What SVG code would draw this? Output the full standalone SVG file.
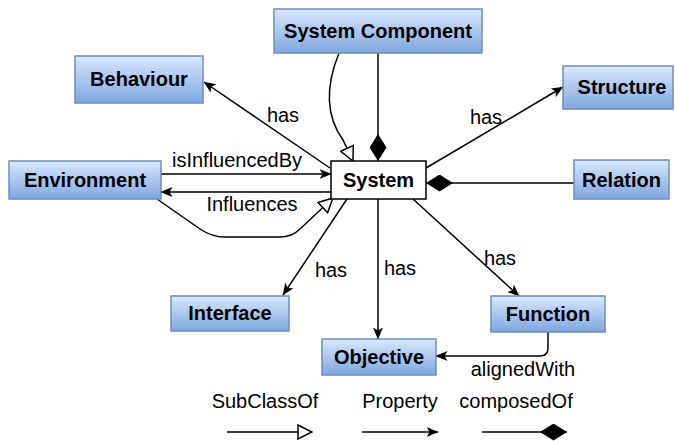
<svg xmlns="http://www.w3.org/2000/svg" width="675" height="441" viewBox="0 0 675 441">
<style>
.node rect.c{fill:url(#blue);stroke:#6c8ebf;stroke-width:1.5}
.node text,.sys text{font-family:"Liberation Sans",Arial,sans-serif;font-weight:bold;font-size:20px;fill:#000;text-anchor:middle}
.lbl{font-family:"Liberation Sans",Arial,sans-serif;font-size:20px;fill:#000;text-anchor:middle}
.e{fill:none;stroke:#000;stroke-width:1.5}
.arr{marker-end:url(#arrow)}
.sub{marker-end:url(#tri)}
.dia{marker-end:url(#diamond)}
</style>
<defs>
<linearGradient id="blue" x1="0" y1="0" x2="0" y2="1">
<stop offset="0" stop-color="#dae8fc"/>
<stop offset="1" stop-color="#7ea6e0"/>
</linearGradient>
<marker id="arrow" viewBox="0 0 12 10" refX="11.5" refY="5" markerWidth="12" markerHeight="10" markerUnits="userSpaceOnUse" orient="auto">
<path d="M0,0 L12,5 L0,10 L3,5 z" fill="#000"/>
</marker>
<marker id="tri" viewBox="-1 -1 16 16" refX="14" refY="7" markerWidth="16" markerHeight="16" markerUnits="userSpaceOnUse" orient="auto">
<path d="M0,0 L14,7 L0,14 z" fill="#fff" stroke="#000" stroke-width="1.5"/>
</marker>
<marker id="diamond" viewBox="0 0 27 17" refX="27" refY="8.5" markerWidth="27" markerHeight="17" markerUnits="userSpaceOnUse" orient="auto">
<path d="M0,8.5 L13.5,0 L27,8.5 L13.5,17 z" fill="#000"/>
</marker>
</defs>
<g id="connectors">
<path class="e dia" d="M378,53 L378,161"/>
<path class="e sub" d="M339,53 C326,85 325,115 343,140 L353,161"/>
<path class="e arr" d="M330,168 L204,82"/>
<path class="e arr" d="M161,174 L331,174"/>
<path class="e arr" d="M331,192 L161,192"/>
<path class="e sub" d="M157,199 L200,229 Q212,237 225,237 L280,237 Q292,237 300,229 L333,198"/>
<path class="e arr" d="M426,168 L563,87"/>
<path class="e dia" d="M574,183 L426,183"/>
<path class="e arr" d="M347,199 L283,295"/>
<path class="e arr" d="M378,199 L378,339"/>
<path class="e arr" d="M413,199 L519,296"/>
<path class="e arr" d="M548,332 L548,348 Q548,356 540,356 L436,356"/>
<text class="lbl" x="283" y="122">has</text>
<text class="lbl" x="237" y="167">isInfluencedBy</text>
<text class="lbl" x="252" y="211">Influences</text>
<text class="lbl" x="486" y="124">has</text>
<text class="lbl" x="331" y="277">has</text>
<text class="lbl" x="400" y="275">has</text>
<text class="lbl" x="500" y="265">has</text>
<text class="lbl" x="523" y="376">alignedWith</text>
</g>
<g id="legend">
<text class="lbl" x="265" y="408">SubClassOf</text>
<path class="e sub" d="M227,432 L312,432"/>
<text class="lbl" x="400" y="408">Property</text>
<path class="e arr" d="M362,432 L438,432"/>
<text class="lbl" x="516" y="408">composedOf</text>
<path class="e dia" d="M482,432 L567,432"/>
</g>
<g id="system-component" class="node"><rect class="c" x="274" y="9" width="208" height="44"/><text x="378" y="38">System Component</text></g>
<g id="system" class="sys"><rect x="331" y="161" width="95" height="38" fill="#fff" stroke="#000" stroke-width="1.5"/><text x="378.5" y="187">System</text></g>
<g id="behaviour" class="node"><rect class="c" x="75" y="56" width="128" height="47"/><text x="139" y="86">Behaviour</text></g>
<g id="environment" class="node"><rect class="c" x="9" y="161" width="152" height="38"/><text x="85" y="187">Environment</text></g>
<g id="structure" class="node"><rect class="c" x="563" y="66" width="110" height="43"/><text x="622" y="94">Structure</text></g>
<g id="relation" class="node"><rect class="c" x="574" y="160" width="95" height="39"/><text x="621.5" y="187">Relation</text></g>
<g id="interface" class="node"><rect class="c" x="171" y="296" width="118" height="35"/><text x="230" y="320">Interface</text></g>
<g id="objective" class="node"><rect class="c" x="322" y="339" width="114" height="36"/><text x="379" y="364">Objective</text></g>
<g id="function" class="node"><rect class="c" x="491" y="296" width="114" height="36"/><text x="548" y="321">Function</text></g>
</svg>
